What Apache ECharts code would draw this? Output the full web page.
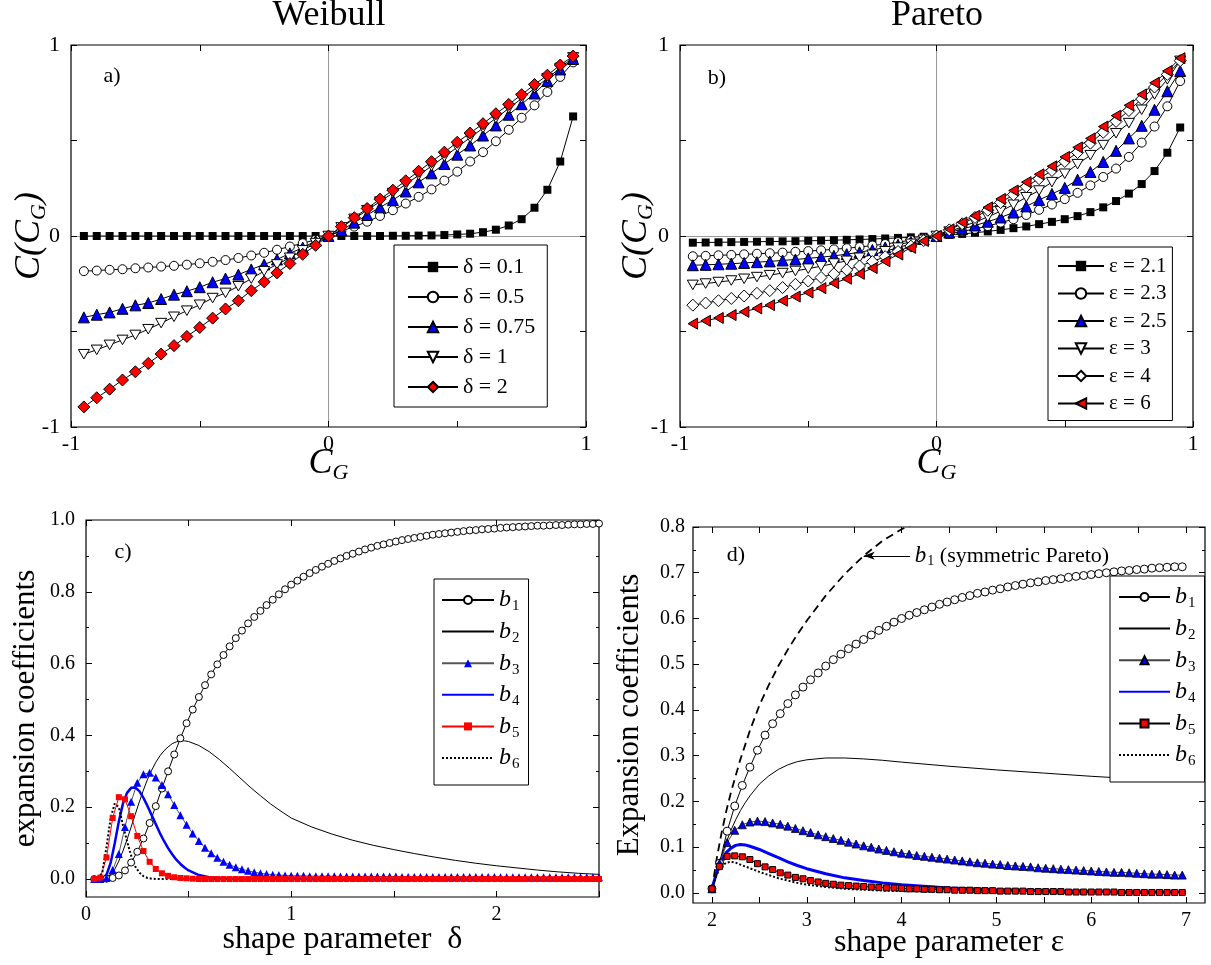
<!DOCTYPE html>
<html><head><meta charset="utf-8">
<script src="https://cdn.jsdelivr.net/npm/echarts@6/dist/echarts.min.js"></script>
<style>html,body{margin:0;padding:0;background:#fff}#chart{width:1211px;height:965px}</style>
</head><body><div id="chart"></div>
<script>
// ---------------- DATA ----------------
const cgX = [-0.95,-0.9,-0.85,-0.8,-0.75,-0.7,-0.65,-0.6,-0.55,-0.5,-0.45,-0.4,-0.35,-0.3,-0.25,-0.2,-0.15,-0.1,-0.05,0,0.05,0.1,0.15,0.2,0.25,0.3,0.35,0.4,0.45,0.5,0.55,0.6,0.65,0.7,0.75,0.8,0.85,0.9,0.95];
const weibullNames = ['δ = 0.1','δ = 0.5','δ = 0.75','δ = 1','δ = 2'];
const wD01 = [0,0,0,0,0,0,0,0,0,0,0,0,0,0,0,0,0,0,0,0,0,0,0,0,0.001,0.001,0.002,0.003,0.005,0.008,0.012,0.02,0.033,0.055,0.088,0.148,0.242,0.39,0.626];
const wD05 = [-0.184,-0.181,-0.177,-0.174,-0.169,-0.165,-0.16,-0.156,-0.15,-0.143,-0.135,-0.126,-0.115,-0.102,-0.088,-0.072,-0.055,-0.038,-0.019,0,0.026,0.049,0.075,0.105,0.135,0.17,0.205,0.244,0.29,0.337,0.39,0.439,0.496,0.556,0.619,0.684,0.754,0.833,0.909];
const wD075 = [-0.426,-0.412,-0.4,-0.381,-0.363,-0.351,-0.33,-0.307,-0.289,-0.268,-0.242,-0.223,-0.202,-0.175,-0.149,-0.123,-0.091,-0.061,-0.026,0,0.03,0.07,0.11,0.15,0.188,0.233,0.281,0.328,0.377,0.426,0.474,0.526,0.579,0.635,0.69,0.746,0.812,0.872,0.927];
const wD1 = [-0.619,-0.596,-0.57,-0.544,-0.518,-0.488,-0.456,-0.423,-0.391,-0.36,-0.325,-0.298,-0.263,-0.223,-0.184,-0.149,-0.114,-0.075,-0.037,0,0.045,0.09,0.135,0.18,0.225,0.27,0.318,0.366,0.415,0.465,0.515,0.565,0.617,0.668,0.72,0.773,0.826,0.88,0.935];
const wD2 = [-0.895,-0.847,-0.802,-0.754,-0.711,-0.667,-0.618,-0.574,-0.526,-0.479,-0.43,-0.382,-0.339,-0.286,-0.24,-0.193,-0.144,-0.096,-0.049,0,0.049,0.096,0.144,0.193,0.24,0.289,0.339,0.389,0.439,0.491,0.539,0.588,0.64,0.689,0.74,0.793,0.842,0.895,0.942];

const paretoNames = ['ε = 2.1','ε = 2.3','ε = 2.5','ε = 3','ε = 4','ε = 6'];
const pE21 = [-0.035,-0.034,-0.033,-0.032,-0.031,-0.03,-0.029,-0.028,-0.027,-0.025,-0.024,-0.022,-0.02,-0.018,-0.016,-0.013,-0.01,-0.007,-0.004,0,0.006,0.011,0.017,0.024,0.032,0.041,0.05,0.062,0.074,0.088,0.104,0.125,0.15,0.183,0.222,0.272,0.34,0.436,0.568];
const pE23 = [-0.106,-0.104,-0.101,-0.099,-0.096,-0.093,-0.09,-0.087,-0.083,-0.079,-0.075,-0.07,-0.064,-0.058,-0.05,-0.042,-0.032,-0.022,-0.011,0,0.012,0.024,0.037,0.052,0.07,0.088,0.11,0.137,0.165,0.193,0.226,0.265,0.309,0.353,0.414,0.489,0.573,0.679,0.811];
const pE25 = [-0.153,-0.151,-0.148,-0.145,-0.141,-0.137,-0.133,-0.128,-0.123,-0.117,-0.111,-0.104,-0.095,-0.085,-0.073,-0.06,-0.046,-0.031,-0.016,0,0.018,0.036,0.055,0.075,0.097,0.123,0.155,0.189,0.22,0.252,0.295,0.335,0.388,0.446,0.511,0.577,0.661,0.758,0.864];
const pE3 = [-0.256,-0.249,-0.241,-0.233,-0.224,-0.215,-0.205,-0.194,-0.183,-0.171,-0.158,-0.144,-0.13,-0.114,-0.098,-0.08,-0.061,-0.041,-0.02,0,0.023,0.048,0.073,0.1,0.13,0.164,0.203,0.238,0.282,0.326,0.376,0.423,0.476,0.538,0.591,0.661,0.741,0.82,0.917];
const pE4 = [-0.362,-0.351,-0.339,-0.327,-0.314,-0.3,-0.286,-0.27,-0.253,-0.236,-0.217,-0.198,-0.178,-0.157,-0.134,-0.108,-0.081,-0.053,-0.024,0,0.032,0.064,0.097,0.135,0.175,0.216,0.258,0.3,0.343,0.39,0.437,0.486,0.543,0.6,0.657,0.717,0.78,0.846,0.918];
const pE6 = [-0.459,-0.444,-0.429,-0.414,-0.397,-0.379,-0.362,-0.339,-0.317,-0.296,-0.273,-0.247,-0.224,-0.198,-0.168,-0.132,-0.097,-0.062,-0.026,0,0.035,0.071,0.106,0.15,0.194,0.238,0.282,0.323,0.365,0.414,0.464,0.511,0.573,0.63,0.684,0.741,0.802,0.864,0.931];

// Weibull expansion coefficients (panel c)
const deltaX = [0.04,0.07,0.10,0.13,0.16,0.19,0.22,0.25,0.28,0.31,0.34,0.37,0.40,0.43,0.46,0.49,0.52,0.55,0.58,0.61,0.64,0.67,0.70,0.73,0.76,0.79,0.82,0.85,0.88,0.91,0.94,0.97,1.00,1.03,1.06,1.09,1.12,1.15,1.18,1.21,1.24,1.27,1.30,1.33,1.36,1.39,1.42,1.45,1.48,1.51,1.54,1.57,1.60,1.63,1.66,1.69,1.72,1.75,1.78,1.81,1.84,1.87,1.90,1.93,1.96,1.99,2.02,2.05,2.08,2.11,2.14,2.17,2.20,2.23,2.26,2.29,2.32,2.35,2.38,2.41,2.44,2.47,2.50];
const cB1 = [0,0,0.001,0.003,0.01,0.024,0.046,0.076,0.113,0.156,0.203,0.252,0.3,0.347,0.392,0.434,0.472,0.507,0.54,0.57,0.598,0.624,0.648,0.671,0.692,0.712,0.73,0.747,0.763,0.778,0.793,0.807,0.82,0.831,0.842,0.852,0.861,0.87,0.878,0.886,0.893,0.9,0.906,0.912,0.918,0.923,0.928,0.932,0.936,0.94,0.944,0.947,0.95,0.953,0.956,0.959,0.961,0.963,0.965,0.967,0.969,0.971,0.972,0.974,0.975,0.976,0.978,0.979,0.98,0.981,0.982,0.983,0.984,0.984,0.985,0.986,0.986,0.987,0.988,0.988,0.989,0.989,0.99];
const cB3 = [0,0,0.003,0.025,0.07,0.145,0.215,0.268,0.292,0.296,0.283,0.262,0.236,0.206,0.178,0.151,0.127,0.106,0.087,0.072,0.059,0.048,0.04,0.033,0.027,0.023,0.019,0.016,0.014,0.012,0.011,0.01,0.009,0.009,0.009,0.008,0.008,0.008,0.008,0.008,0.007,0.007,0.007,0.007,0.007,0.007,0.007,0.007,0.007,0.007,0.006,0.006,0.006,0.006,0.006,0.006,0.006,0.006,0.006,0.006,0.006,0.006,0.006,0.006,0.006,0.006,0.005,0.005,0.005,0.005,0.005,0.005,0.005,0.005,0.005,0.005,0.005,0.005,0.005,0.005,0.005,0.005,0.005];
const cB5 = [0,0.004,0.06,0.17,0.228,0.222,0.175,0.12,0.078,0.048,0.028,0.016,0.009,0.005,0.003,0.002,0.001,0,0,0,0,0,0,0,0,0,0,0,0,0,0,0,0,0,0,0,0,0,0,0,0,0,0,0,0,0,0,0,0,0,0,0,0,0,0,0,0,0,0,0,0,0,0,0,0,0,0,0,0,0,0,0,0,0,0,0,0,0,0,0,0,0,0];
const deltaLineX = [0.04,0.06,0.08,0.10,0.12,0.14,0.16,0.18,0.20,0.22,0.24,0.26,0.28,0.30,0.32,0.34,0.36,0.38,0.40,0.42,0.44,0.46,0.48,0.50,0.55,0.60,0.65,0.70,0.75,0.80,0.85,0.90,0.95,1.00,1.10,1.20,1.30,1.40,1.50,1.60,1.70,1.80,1.90,2.00,2.10,2.20,2.30,2.40,2.50];
const cB2 = [0,0,0.001,0.004,0.012,0.027,0.05,0.078,0.11,0.145,0.18,0.215,0.248,0.278,0.303,0.325,0.343,0.357,0.368,0.377,0.382,0.385,0.385,0.383,0.372,0.355,0.333,0.308,0.282,0.256,0.232,0.209,0.189,0.17,0.145,0.125,0.108,0.094,0.082,0.071,0.061,0.052,0.044,0.037,0.031,0.025,0.02,0.016,0.013];
const cB4 = [0,0,0.002,0.012,0.045,0.1,0.16,0.21,0.24,0.254,0.255,0.245,0.226,0.203,0.178,0.153,0.128,0.106,0.086,0.069,0.054,0.042,0.032,0.024,0.011,0.005,0.002,0.001,0,0,0,0,0,0,0,0,0,0,0,0,0,0,0,0,0,0,0,0,0];
const cB6 = [0,0.001,0.02,0.09,0.17,0.21,0.2,0.15,0.105,0.065,0.035,0.018,0.008,0.003,0.001,0,0,0,0,0,0,0,0,0,0,0,0,0,0,0,0,0,0,0,0,0,0,0,0,0,0,0,0,0,0,0,0,0,0];

// Pareto expansion coefficients (panel d)
const epsX = [2.00,2.08,2.16,2.24,2.32,2.40,2.48,2.56,2.64,2.72,2.80,2.88,2.96,3.04,3.12,3.20,3.28,3.36,3.44,3.52,3.60,3.68,3.76,3.84,3.92,4.00,4.08,4.16,4.24,4.32,4.40,4.48,4.56,4.64,4.72,4.80,4.88,4.96,5.04,5.12,5.20,5.28,5.36,5.44,5.52,5.60,5.68,5.76,5.84,5.92,6.00,6.08,6.16,6.24,6.32,6.40,6.48,6.56,6.64,6.72,6.80,6.88,6.96];
const dB1 = [0.009,0.065,0.135,0.19,0.235,0.275,0.312,0.345,0.37,0.392,0.414,0.433,0.45,0.466,0.481,0.496,0.51,0.522,0.534,0.544,0.554,0.564,0.574,0.583,0.592,0.6,0.607,0.613,0.619,0.625,0.631,0.636,0.641,0.646,0.65,0.655,0.658,0.662,0.665,0.669,0.672,0.675,0.678,0.68,0.683,0.685,0.687,0.69,0.692,0.694,0.696,0.698,0.7,0.702,0.704,0.705,0.707,0.708,0.71,0.711,0.712,0.713,0.713];
const dB3 = [0.009,0.065,0.11,0.137,0.149,0.155,0.157,0.156,0.153,0.15,0.146,0.141,0.136,0.132,0.127,0.123,0.119,0.115,0.111,0.107,0.103,0.1,0.096,0.093,0.09,0.087,0.085,0.082,0.08,0.078,0.076,0.074,0.072,0.07,0.068,0.066,0.065,0.063,0.062,0.06,0.059,0.058,0.057,0.055,0.054,0.053,0.052,0.051,0.05,0.049,0.048,0.047,0.046,0.045,0.045,0.044,0.043,0.042,0.041,0.041,0.04,0.039,0.039];
const dB5 = [0.009,0.058,0.08,0.081,0.079,0.073,0.064,0.057,0.051,0.044,0.039,0.034,0.031,0.027,0.024,0.021,0.019,0.017,0.016,0.015,0.014,0.013,0.012,0.011,0.011,0.01,0.009,0.009,0.008,0.008,0.007,0.007,0.006,0.006,0.006,0.005,0.005,0.005,0.004,0.004,0.004,0.004,0.003,0.003,0.003,0.003,0.003,0.002,0.002,0.002,0.002,0.002,0.002,0.002,0.001,0.001,0.001,0.001,0.001,0.001,0.001,0.001,0.001];
const epsLineX = [2.00,2.05,2.10,2.15,2.20,2.25,2.30,2.35,2.40,2.50,2.60,2.70,2.80,2.90,3.00,3.20,3.40,3.60,3.80,4.00,4.50,5.00,5.50,6.00,6.50,7.00];
const dB2 = [0.01,0.045,0.08,0.11,0.137,0.16,0.18,0.197,0.212,0.238,0.256,0.27,0.28,0.287,0.291,0.295,0.295,0.293,0.29,0.286,0.277,0.269,0.262,0.255,0.249,0.244];
const dB4 = [0.01,0.045,0.07,0.088,0.098,0.104,0.106,0.105,0.102,0.095,0.086,0.077,0.068,0.06,0.053,0.042,0.033,0.027,0.022,0.018,0.011,0.007,0.005,0.003,0.002,0.002];
const dB6 = [0.009,0.04,0.058,0.066,0.068,0.066,0.062,0.058,0.054,0.046,0.039,0.032,0.027,0.022,0.018,0.013,0.009,0.007,0.005,0.004,0.002,0.001,0.001,0,0,0];
const symEpsX = [2.02,2.05,2.10,2.15,2.20,2.30,2.40,2.50,2.60,2.70,2.80,2.90,3.00,3.20,3.40,3.60,3.80,4.00,4.20];
const symB1 = [0.035,0.075,0.13,0.178,0.22,0.292,0.355,0.41,0.455,0.496,0.532,0.565,0.595,0.65,0.697,0.737,0.77,0.795,0.815];

// tick values / labels
const abTicks = [-1,-0.5,0,0.5,1];
const abLabels = [-1,0,1];
const cXTicks = [0,0.5,1,1.5,2,2.5];
const cXLabels = [0,1,2];
const cYLabels = [0,0.2,0.4,0.6,0.8,1.0];
const cYMinor = [0.1,0.3,0.5,0.7,0.9];
const dXTicks = [2,2.5,3,3.5,4,4.5,5,5.5,6,6.5,7];
const dXLabels = [2,3,4,5,6,7];
const dYLabels = [0,0.1,0.2,0.3,0.4,0.5,0.6,0.7,0.8];
const dYMinor = [0.05,0.15,0.25,0.35,0.45,0.55,0.65,0.75];

// ---------------- BUILD ----------------
const FONT = '"Liberation Serif", "Times New Roman", serif';
const grids = [], xAxes = [], yAxes = [], AX = {};
const zip = (xs, ys) => xs.map((x, i) => [x, ys[i]]);

function tick(vals, len) {
  return {show: true, inside: true, length: len, customValues: vals, lineStyle: {color: '#000', width: 1}};
}
function addPanel(key, box, c) {
  const g = grids.length;
  grids.push(Object.assign({show: true, borderColor: '#000', borderWidth: 1.2, backgroundColor: 'rgba(0,0,0,0)', outerBoundsMode: 'none', containLabel: false}, box));
  const bx = {gridIndex: g, type: 'value', min: c.xMin, max: c.xMax, splitLine: {show: false}, axisLine: {show: false, onZero: false}, nameMoveOverlap: false};
  const by = {gridIndex: g, type: 'value', min: c.yMin, max: c.yMax, splitLine: {show: false}, axisLine: {show: false, onZero: false}, nameMoveOverlap: false};
  const lab = (vals, fmt, margin) => ({show: true, customValues: vals, formatter: fmt, fontSize: c.fs, fontFamily: FONT, color: '#000', margin: margin});
  AX[key] = {x: xAxes.length, y: yAxes.length};
  xAxes.push(Object.assign({}, bx, {position: 'bottom', axisTick: tick(c.xTicks, 6), axisLabel: lab(c.xLabels, c.xFmt, c.xMargin),
    name: c.xName, nameLocation: 'middle', nameGap: c.xNameGap, nameTextStyle: c.xNameStyle}));
  xAxes.push(Object.assign({}, bx, {position: 'top', axisTick: tick(c.xTicks, 6), axisLabel: {show: false}}));
  yAxes.push(Object.assign({}, by, {position: 'left', axisTick: tick(c.yTicks, 6), axisLabel: lab(c.yLabels, c.yFmt, c.yMargin),
    name: c.yName, nameLocation: 'middle', nameRotate: 90, nameGap: c.yNameGap, nameTextStyle: c.yNameStyle}));
  yAxes.push(Object.assign({}, by, {position: 'right', axisTick: tick(c.yTicks, 6), axisLabel: {show: false}}));
  if (c.yMinor) {
    yAxes.push(Object.assign({}, by, {position: 'left', axisTick: tick(c.yMinor, 3), axisLabel: {show: false}}));
    yAxes.push(Object.assign({}, by, {position: 'right', axisTick: tick(c.yMinor, 3), axisLabel: {show: false}}));
  }
  if (c.zero) {
    const zl = {show: true, onZero: true, lineStyle: {color: '#9a9a9a', width: 1}};
    xAxes.push(Object.assign({}, bx, {position: 'bottom', axisLine: zl, axisTick: {show: false}, axisLabel: {show: false}}));
    yAxes.push(Object.assign({}, by, {position: 'left', axisLine: zl, axisTick: {show: false}, axisLabel: {show: false}}));
  }
}

const richC = {
  i: {fontSize: 36, fontStyle: 'italic', fontFamily: FONT, color: '#000'},
  s: {fontSize: 22, fontStyle: 'italic', fontFamily: FONT, color: '#000', padding: [18, 0, 0, 0]}
};
const intFmt = v => String(Math.round(v));
const oneDec = v => (Math.round(v * 10) / 10).toFixed(1);

addPanel('a', {left: 71, top: 45, width: 515, height: 382}, {
  xMin: -1, xMax: 1, yMin: -1, yMax: 1, xTicks: abTicks, yTicks: abTicks, xLabels: abLabels, yLabels: abLabels,
  xFmt: intFmt, yFmt: intFmt, fs: 22, xMargin: 6, yMargin: 11, zero: true,
  xName: '{i|C}{s|G}', xNameGap: 17, xNameStyle: {rich: richC},
  yName: '{i|C(C}{s|G}{i|)}', yNameGap: 21, yNameStyle: {rich: richC}
});
addPanel('b', {left: 680, top: 45, width: 513, height: 382}, {
  xMin: -1, xMax: 1, yMin: -1, yMax: 1, xTicks: abTicks, yTicks: abTicks, xLabels: abLabels, yLabels: abLabels,
  xFmt: intFmt, yFmt: intFmt, fs: 22, xMargin: 6, yMargin: 11, zero: true,
  xName: '{i|C}{s|G}', xNameGap: 17, xNameStyle: {rich: richC},
  yName: '{i|C(C}{s|G}{i|)}', yNameGap: 23, yNameStyle: {rich: richC}
});
addPanel('c', {left: 86, top: 520, width: 513, height: 377}, {
  xMin: 0, xMax: 2.5, yMin: -0.05, yMax: 1.0, xTicks: cXTicks, yTicks: cYLabels, yMinor: cYMinor, xLabels: cXLabels, yLabels: cYLabels,
  xFmt: intFmt, yFmt: oneDec, fs: 20, xMargin: 8, yMargin: 11,
  xName: 'shape parameter  δ', xNameGap: 27, xNameStyle: {fontSize: 32, fontFamily: FONT, color: '#000'},
  yName: 'expansion coefficients', yNameGap: 45, yNameStyle: {fontSize: 31, fontFamily: FONT, color: '#000'}
});
addPanel('d', {left: 693, top: 527, width: 512, height: 376}, {
  xMin: 1.8, xMax: 7.2, yMin: -0.022, yMax: 0.8, xTicks: dXTicks, yTicks: dYLabels, yMinor: dYMinor, xLabels: dXLabels, yLabels: dYLabels,
  xFmt: intFmt, yFmt: oneDec, fs: 20, xMargin: 8, yMargin: 8,
  xName: 'shape parameter ε', xNameGap: 24, xNameStyle: {fontSize: 32, fontFamily: FONT, color: '#000'},
  yName: 'Expansion coefficients', yNameGap: 48, yNameStyle: {fontSize: 31, fontFamily: FONT, color: '#000'}
});

const DOWN = 'path://M0,0L10,0L5,8.66Z';
const LEFT = 'path://M0,5L8.66,0L8.66,10Z';
const blk = {color: '#000', width: 1};
function ser(key, name, xs, ys, o) {
  return Object.assign({name: name, type: 'line', xAxisIndex: AX[key].x, yAxisIndex: AX[key].y, data: zip(xs, ys),
    animation: false, silent: true, symbolKeepAspect: true, lineStyle: blk}, o);
}
const open = {color: '#fff', borderColor: '#000', borderWidth: 1};
const series = [
  ser('a', weibullNames[0], cgX, wD01, {symbol: 'rect', symbolSize: 8, itemStyle: {color: '#000', borderColor: '#000', borderWidth: 0}}),
  ser('a', weibullNames[1], cgX, wD05, {symbol: 'circle', symbolSize: 9, itemStyle: open}),
  ser('a', weibullNames[2], cgX, wD075, {symbol: 'triangle', symbolSize: 11, itemStyle: {color: '#0000ff', borderColor: '#000', borderWidth: 1}}),
  ser('a', weibullNames[3], cgX, wD1, {symbol: DOWN, symbolSize: 11, itemStyle: open}),
  ser('a', weibullNames[4], cgX, wD2, {symbol: 'diamond', symbolSize: 12, itemStyle: {color: '#ff0000', borderColor: '#000', borderWidth: 1}}),

  ser('b', paretoNames[0], cgX, pE21, {symbol: 'rect', symbolSize: 8, itemStyle: {color: '#000', borderColor: '#000', borderWidth: 0}}),
  ser('b', paretoNames[1], cgX, pE23, {symbol: 'circle', symbolSize: 9, itemStyle: open}),
  ser('b', paretoNames[2], cgX, pE25, {symbol: 'triangle', symbolSize: 11, itemStyle: {color: '#0000ff', borderColor: '#000', borderWidth: 1}}),
  ser('b', paretoNames[3], cgX, pE3, {symbol: DOWN, symbolSize: 11, itemStyle: open}),
  ser('b', paretoNames[4], cgX, pE4, {symbol: 'diamond', symbolSize: 12, itemStyle: open}),
  ser('b', paretoNames[5], cgX, pE6, {symbol: LEFT, symbolSize: 11, itemStyle: {color: '#ff0000', borderColor: '#000', borderWidth: 1}}),

  ser('c', 'c_b1', deltaX, cB1, {symbol: 'circle', symbolSize: 7, itemStyle: open}),
  ser('c', 'c_b2', deltaLineX, cB2, {symbol: 'none', itemStyle: {color: '#000'}}),
  ser('c', 'c_b3', deltaX, cB3, {symbol: 'triangle', symbolSize: 8, itemStyle: {color: '#0000ff', borderWidth: 0}, lineStyle: {color: '#555', width: 1}}),
  ser('c', 'c_b4', deltaLineX, cB4, {symbol: 'none', itemStyle: {color: '#0000ff'}, lineStyle: {color: '#0000ff', width: 2.5}}),
  ser('c', 'c_b5', deltaX, cB5, {symbol: 'rect', symbolSize: 6, itemStyle: {color: '#ff0000', borderWidth: 0}, lineStyle: {color: '#ff0000', width: 1}}),
  ser('c', 'c_b6', deltaLineX, cB6, {symbol: 'none', itemStyle: {color: '#000'}, lineStyle: {color: '#000', width: 2, type: 'dotted'}}),

  ser('d', 'd_b1', epsX, dB1, {symbol: 'circle', symbolSize: 8, itemStyle: open}),
  ser('d', 'd_b2', epsLineX, dB2, {symbol: 'none', itemStyle: {color: '#000'}}),
  ser('d', 'd_b3', epsX, dB3, {symbol: 'triangle', symbolSize: 8, itemStyle: {color: '#0000ff', borderColor: '#000', borderWidth: 0.8}, lineStyle: {color: '#444', width: 1}}),
  ser('d', 'd_b4', epsLineX, dB4, {symbol: 'none', itemStyle: {color: '#0000ff'}, lineStyle: {color: '#0000ff', width: 3}}),
  ser('d', 'd_b5', epsX, dB5, {symbol: 'rect', symbolSize: 6, itemStyle: {color: '#ff0000', borderColor: '#000', borderWidth: 1}}),
  ser('d', 'd_b6', epsLineX, dB6, {symbol: 'none', itemStyle: {color: '#000'}, lineStyle: {color: '#000', width: 2, type: 'dotted'}}),
  ser('d', 'd_sym', symEpsX, symB1, {symbol: 'none', itemStyle: {color: '#000'}, lineStyle: {color: '#000', width: 1.8, type: [8, 5]},
    markLine: {silent: true, animation: false, symbol: ['none', 'arrow'], symbolSize: [6, 11],
      lineStyle: {color: '#000', width: 1.2, type: 'solid'}, label: {show: false},
      data: [[{coord: [4.09, 0.737]}, {coord: [3.6, 0.737]}]]}})
];

const richB = {
  i: {fontSize: 24, fontStyle: 'italic', fontFamily: FONT, color: '#000'},
  s: {fontSize: 15, fontFamily: FONT, color: '#000', padding: [13, 0, 0, 1]}
};
const legBase = {orient: 'vertical', selectedMode: false, backgroundColor: '#fff', borderColor: '#000', borderWidth: 1, borderRadius: 0};
const bFmt = n => '{i|b}{s|' + n.split('_')[1].slice(1) + '}';
const hideSym = {color: 'rgba(0,0,0,0)', borderColor: 'rgba(0,0,0,0)', borderWidth: 0};
const bItems = p => [1, 2, 3, 4, 5, 6].map(k => {
  const n = p + '_b' + k;
  return (k === 2 || k === 4 || k === 6) ? {name: n, itemStyle: hideSym} : {name: n};
});
const legends = [
  Object.assign({}, legBase, {data: weibullNames, left: 394, top: 245, itemWidth: 50, itemHeight: 13, itemGap: 8, padding: [11, 12, 9, 13],
    textStyle: {fontSize: 22, lineHeight: 22, fontFamily: FONT, color: '#000'}}),
  Object.assign({}, legBase, {data: paretoNames, left: 1048, top: 247, itemWidth: 46, itemHeight: 13, itemGap: 5.5, padding: [8, 6, 6, 9],
    textStyle: {fontSize: 21, lineHeight: 22, fontFamily: FONT, color: '#000'}}),
  Object.assign({}, legBase, {data: bItems('c'), left: 434, top: 579, itemWidth: 52, itemHeight: 10, itemGap: 5.6, padding: [9, 9, 13, 7],
    formatter: bFmt, textStyle: {fontFamily: FONT, color: '#000', rich: richB}}),
  Object.assign({}, legBase, {data: bItems('d'), left: 1110, top: 576, itemWidth: 51, itemHeight: 10, itemGap: 5.6, padding: [9, 9, 13, 8],
    formatter: bFmt, textStyle: {fontFamily: FONT, color: '#000', rich: richB}})
];

const chart = echarts.init(document.getElementById('chart'), null, {renderer: 'canvas'});
chart.setOption({
  backgroundColor: '#fff',
  animation: false,
  textStyle: {fontFamily: FONT},
  grid: grids, xAxis: xAxes, yAxis: yAxes, legend: legends, series: series
});

const txt = (x, y, text, size, extra) => ({type: 'text', x: x, y: y, silent: true, z: 100,
  style: Object.assign({text: text, font: size + 'px ' + FONT, fill: '#000', align: 'center', verticalAlign: 'middle'}, extra || {})});
const anchor = chart.convertToPixel({xAxisIndex: AX.d.x, yAxisIndex: AX.d.y}, [4.14, 0.737]);
chart.setOption({graphic: [
  txt(329, 16, 'Weibull', 36),
  txt(937, 16, 'Pareto', 36),
  txt(112, 76, 'a)', 22),
  txt(717, 78, 'b)', 22),
  txt(123, 552, 'c)', 22),
  txt(736, 555, 'd)', 22),
  {type: 'text', x: anchor[0], y: anchor[1], silent: true, z: 100,
   style: {text: '{i|b}{s|1}{n| (symmetric Pareto)}', fill: '#000', align: 'left', verticalAlign: 'middle',
     rich: {i: {fontSize: 23, fontStyle: 'italic', fontFamily: FONT, fill: '#000'},
            s: {fontSize: 14, fontFamily: FONT, fill: '#000', padding: [12, 0, 0, 1]},
            n: {fontSize: 22, fontFamily: FONT, fill: '#000'}}}}
]});
</script></body></html>
